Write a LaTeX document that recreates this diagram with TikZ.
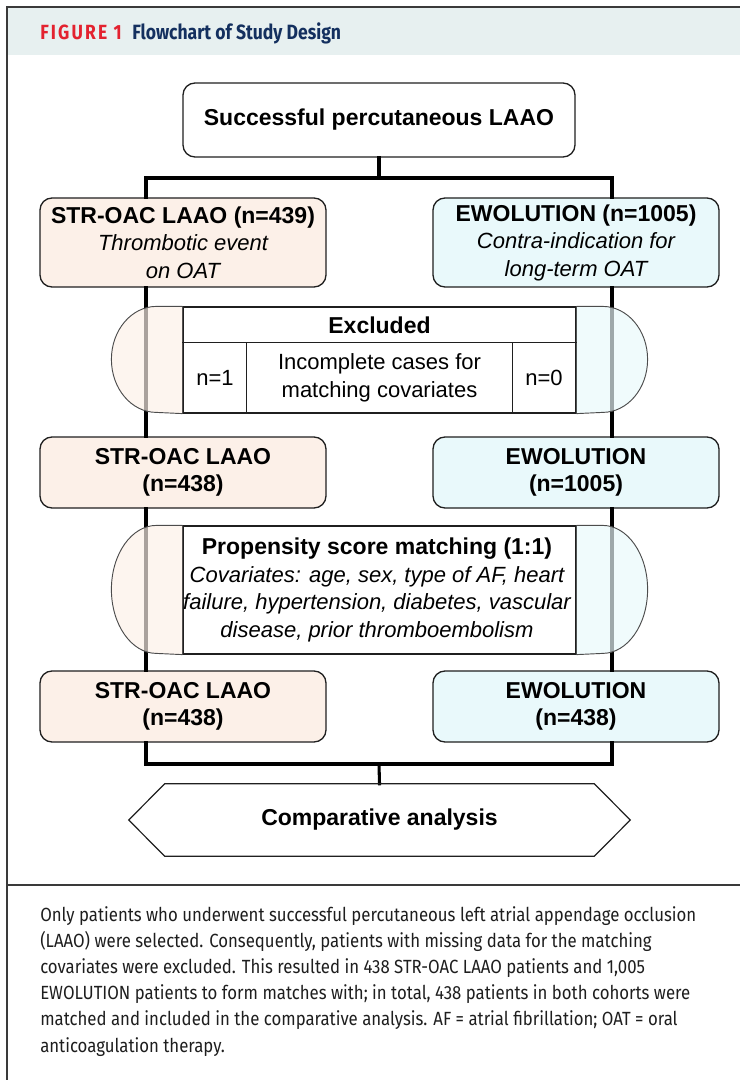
\documentclass[tikz,border=0pt]{standalone}
\usepackage{fontspec}
\setmainfont{Liberation Sans}
\newfontfamily\capfont{Fira Sans}[FakeStretch=0.88]
\newfontfamily\ttlfont{Fira Sans}[FakeStretch=0.85]
\usetikzlibrary{calc}
\definecolor{peach}{HTML}{FCF0E8}
\definecolor{cyanl}{HTML}{E9F9FB}
\definecolor{band}{HTML}{E7F0F0}
\definecolor{figred}{HTML}{E3222F}
\definecolor{navy}{HTML}{14305F}
\definecolor{frame}{HTML}{3A3A3A}
\definecolor{captxt}{HTML}{1E1E1E}
\newcommand\bt[1]{{\fontsize{17.25pt}{20.6pt}\selectfont\bfseries #1}}
\tikzset{
  sz/.style 2 args={minimum width=#1*0.75pt, minimum height=#2*0.75pt},
  txt/.style={font=\fontsize{16.5pt}{20.6pt}\selectfont, align=center, inner sep=0pt},
  box/.style={draw=black!88, line width=1pt, rounded corners=9pt, txt},
  lbox/.style={box, fill=peach},
  rbox/.style={box, fill=cyanl},
  plain/.style={draw=black!88, line width=0.9pt, fill=white, txt},
  conn/.style={line width=2.3pt, line join=miter, line cap=rect},
  bulgeL/.style={fill=peach, fill opacity=0.68},
  bulgeR/.style={fill=cyanl, fill opacity=0.68},
  bulgeline/.style={draw=black!70, line width=0.7pt},
  capline/.style={anchor=base west, inner sep=0pt, text=captxt, font=\capfont\fontsize{14.3pt}{16pt}\selectfont},
}
\begin{document}
\begin{tikzpicture}[x=0.75pt,y=-0.75pt]
\useasboundingbox (0,0) rectangle (740,1080);
% frame and header band
\fill[band] (7,7) rectangle (740,55);
\draw[frame, line width=1.1pt] (7,1080) -- (7,7) -- (740,7);
\draw[frame, line width=1.1pt] (7,885) -- (740,885);
\node[anchor=base west, inner sep=0pt, text=figred, font=\ttlfont\bfseries\fontsize{15.4pt}{17pt}\selectfont\addfontfeature{LetterSpace=10.5}] (t1) at (40,39.5) {FIGURE 1};
\node[anchor=base west, inner sep=0pt, text=navy, font=\ttlfont\bfseries\fontsize{15.5pt}{17pt}\selectfont] (t2) at (132,39.5) {Flowchart of Study Design};

% positions of the two vertical lines
\coordinate (lx) at (146,0);
\coordinate (rx) at (612,0);
\coordinate (jt) at (379,178);
\coordinate (jb) at (379,764);

% boxes
\node[box, sz={392}{74}] (top) at (379,120) {\bt{Successful percutaneous LAAO}};
\node[lbox, sz={286}{89}] (L1) at (183,242.5) {\bt{STR-OAC LAAO (n=439)}\\\itshape Thrombotic event\\\itshape on OAT};
\node[rbox, sz={286}{89}] (R1) at (576,242.5) {\bt{EWOLUTION (n=1005)}\\\itshape Contra-indication for\\\itshape long-term OAT};
\node[lbox, sz={286}{71}] (L2) at (183,472.5) {\bt{STR-OAC LAAO}\\\bt{(n=438)}};
\node[rbox, sz={286}{71}] (R2) at (576,472.5) {\bt{EWOLUTION}\\\bt{(n=1005)}};
\node[lbox, sz={286}{71}] (L3) at (183,706.5) {\bt{STR-OAC LAAO}\\\bt{(n=438)}};
\node[rbox, sz={286}{71}] (R3) at (576,706.5) {\bt{EWOLUTION}\\\bt{(n=438)}};

% connectors
\draw[conn] (top.south) -- (jt);
\draw[conn] (lx |- L1.north) -- (lx |- jt) -- (rx |- jt) -- (rx |- R1.north);
\draw[conn] (lx |- L1.south) -- (lx |- L2.north);
\draw[conn] (rx |- R1.south) -- (rx |- R2.north);
\draw[conn] (lx |- L2.south) -- (lx |- L3.north);
\draw[conn] (rx |- R2.south) -- (rx |- R3.north);
\draw[conn] (lx |- L3.south) -- (lx |- jb) -- (rx |- jb) -- (rx |- R3.south);

% hexagon
\node[txt, sz={429}{72}] (hex) at (379.5,820) {\bt{Comparative analysis}};
\draw[conn] (jb) -- (hex.north);
\draw[black!88, line width=0.9pt] (hex.north west) -- (hex.north east) -- ($(hex.east)+(36,0)$) -- (hex.south east) -- (hex.south west) -- ($(hex.west)+(-36,0)$) -- cycle;

% Excluded panel
\node[plain, sz={393}{106}] (ex) at (379.5,360) {};
\fill[bulgeL] (ex.north west) -- ++(-26,0) arc[start angle=270, end angle=90, x radius=45, y radius=53] -- (ex.south west) -- cycle;
\draw[bulgeline] (ex.north west) -- ++(-26,0) arc[start angle=270, end angle=90, x radius=45, y radius=53] -- (ex.south west);
\fill[bulgeR] (ex.north east) -- ++(26,0) arc[start angle=-90, end angle=90, x radius=45, y radius=53] -- (ex.south east) -- cycle;
\draw[bulgeline] (ex.north east) -- ++(26,0) arc[start angle=-90, end angle=90, x radius=45, y radius=53] -- (ex.south east);
\draw[black!88, line width=0.9pt] ($(ex.north west)+(0,36)$) -- ($(ex.north east)+(0,36)$);
\draw[black!88, line width=0.9pt] ($(ex.north west)+(64,36)$) -- ($(ex.south west)+(64,0)$);
\draw[black!88, line width=0.9pt] ($(ex.north east)+(-64,36)$) -- ($(ex.south east)+(-64,0)$);
\node[txt] (exh) at (379.5,325) {\bt{Excluded}};
\node[txt] (ex1) at (215,378) {n=1};
\node[txt] (exm) at (379.5,378) {Incomplete cases for\\matching covariates};
\node[txt] (ex0) at (544,378) {n=0};

% Propensity panel
\node[plain, sz={393}{128}] (ps) at (379.5,590) {};
\fill[bulgeL] (ps.north west) -- ++(-26,0) arc[start angle=270, end angle=90, x radius=45, y radius=64] -- (ps.south west) -- cycle;
\draw[bulgeline] (ps.north west) -- ++(-26,0) arc[start angle=270, end angle=90, x radius=45, y radius=64] -- (ps.south west);
\fill[bulgeR] (ps.north east) -- ++(26,0) arc[start angle=-90, end angle=90, x radius=45, y radius=64] -- (ps.south east) -- cycle;
\draw[bulgeline] (ps.north east) -- ++(26,0) arc[start angle=-90, end angle=90, x radius=45, y radius=64] -- (ps.south east);
\node[txt] (pst) at (377,590) {\bt{Propensity score matching (1:1)}\\\itshape Covariates: age, sex, type of AF, heart\\\itshape failure, hypertension, diabetes, vascular\\\itshape disease, prior thromboembolism};

% caption
\node[capline] (c1) at (40,921) {Only patients who underwent successful percutaneous left atrial appendage occlusion};
\node[capline] (c2) at (40,947.2) {(LAAO) were selected. Consequently, patients with missing data for the matching};
\node[capline] (c3) at (40,973.4) {covariates were excluded. This resulted in 438 STR-OAC LAAO patients and 1,005};
\node[capline] (c4) at (40,999.6) {EWOLUTION patients to form matches with; in total, 438 patients in both cohorts were};
\node[capline] (c5) at (40,1025.8) {matched and included in the comparative analysis. AF = atrial fibrillation; OAT = oral};
\node[capline] (c6) at (40,1052) {anticoagulation therapy.};
\end{tikzpicture}
\end{document}
